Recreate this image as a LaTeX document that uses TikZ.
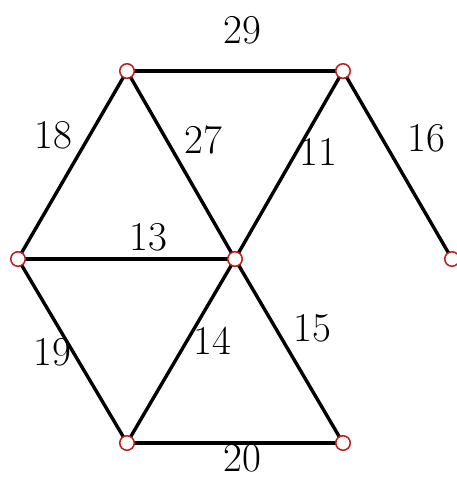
\documentclass[tikz,border=0pt]{standalone}
\begin{document}
\begin{tikzpicture}[x=1pt,y=-1pt,
  vertex/.style={circle,draw={rgb,255:red,190;green,30;blue,30},fill=white,line width=1.5pt,minimum size=14.5pt,inner sep=0pt},
  edge/.style={line width=3.4pt,black},
  lbl/.style={font=\fontsize{41}{45}\selectfont,inner sep=0pt}]
\useasboundingbox (0,0) rectangle (456,478);
\fill[white] (0,0) rectangle (456,478);
\coordinate (A) at (127,71);
\coordinate (B) at (343,71);
\coordinate (C) at (18,259);
\coordinate (D) at (235,259);
\coordinate (E) at (452,259);
\coordinate (F) at (127,443);
\coordinate (G) at (343,443);
\draw[edge] (A) -- (B);
\draw[edge] (A) -- (C);
\draw[edge] (A) -- (D);
\draw[edge] (B) -- (D);
\draw[edge] (B) -- (E);
\draw[edge] (C) -- (D);
\draw[edge] (C) -- (F);
\draw[edge] (D) -- (F);
\draw[edge] (D) -- (G);
\draw[edge] (F) -- (G);
\foreach \n in {A,B,C,D,E,F,G} \node[vertex] at (\n) {};
\node[lbl] (l29) at (242,30) {29};
\node[lbl] (l18) at (53,135) {18};
\node[lbl] (l27) at (203,140) {27};
\node[lbl] (l11) at (318,152) {11};
\node[lbl] (l16) at (426,138) {16};
\node[lbl] (l13) at (148,237) {13};
\node[lbl] (l19) at (52,352) {19};
\node[lbl] (l14) at (212,341) {14};
\node[lbl] (l15) at (312,328) {15};
\node[lbl] (l20) at (242,458) {20};
\end{tikzpicture}
\end{document}
